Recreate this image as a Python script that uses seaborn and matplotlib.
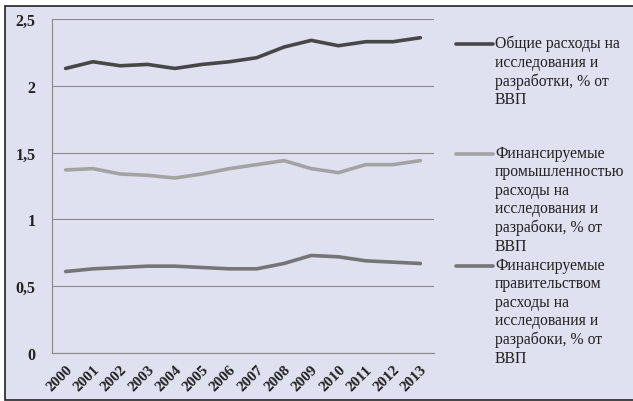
import numpy as np
import pandas as pd
import matplotlib
matplotlib.use("Agg")
import matplotlib.pyplot as plt
import seaborn as sns
from matplotlib.ticker import FuncFormatter, FixedLocator
from matplotlib.patches import Rectangle

years = list(range(2000, 2014))
total = [2.13, 2.18, 2.15, 2.16, 2.13, 2.16, 2.18, 2.21, 2.29, 2.34, 2.30, 2.33, 2.33, 2.36]
industry = [1.37, 1.38, 1.34, 1.33, 1.31, 1.34, 1.38, 1.41, 1.44, 1.38, 1.35, 1.41, 1.41, 1.44]
government = [0.61, 0.63, 0.64, 0.65, 0.65, 0.64, 0.63, 0.63, 0.67, 0.73, 0.72, 0.69, 0.68, 0.67]

labels = [
    "Общие расходы на\nисследования и\nразработки, % от\nВВП",
    "Финансируемые\nпромышленностью\nрасходы на\nисследования и\nразрабоки, % от\nВВП",
    "Финансируемые\nправительством\nрасходы на\nисследования и\nразрабоки, % от\nВВП",
]
colors = ["#474747", "#a3a3a3", "#757575"]

df = pd.concat([
    pd.DataFrame({"pos": np.arange(len(years)), "value": vals, "series": lab})
    for vals, lab in zip([total, industry, government], labels)
])

sns.set_style("white")
plt.rcParams["font.family"] = ["Liberation Serif", "DejaVu Serif"]

bg = "#dfe0f0"
fig = plt.figure(figsize=(6.33, 4.02), dpi=100)
fig.patch.set_facecolor("white")
fig.patches.append(Rectangle((5 / 633, 1 / 402), 640 / 633, 394 / 402, transform=fig.transFigure,
                             facecolor=bg, edgecolor="#222222", linewidth=1.2, zorder=-10))

ax = fig.add_axes([52 / 633, 48 / 402, 382 / 633, 334 / 402])
ax.set_facecolor(bg)

sns.lineplot(data=df, x="pos", y="value", hue="series", palette=colors, linewidth=2.6,
             ax=ax, legend=False)

ax.set_xlim(-0.5, len(years) - 0.5)
ax.set_ylim(0, 2.5)
ax.set_yticks([0, 0.5, 1, 1.5, 2, 2.5])
ax.yaxis.set_major_formatter(FuncFormatter(lambda v, p: ("%g" % v).replace(".", ",")))
ax.set_xticks(np.arange(len(years)))
ax.set_xticklabels([str(y) for y in years], rotation=45, ha="right", rotation_mode="anchor")
ax.xaxis.set_minor_locator(FixedLocator(np.arange(len(years) + 1) - 0.5))
ax.tick_params(axis="x", which="major", length=0, pad=7, labelsize=11)
ax.tick_params(axis="x", which="minor", length=4, color="#888888", width=0.8)
ax.tick_params(axis="y", length=4, color="#888888", width=0.8, labelsize=11.5, pad=8)
for t in ax.get_xticklabels() + ax.get_yticklabels():
    t.set_fontweight("bold")
    t.set_color("#222222")

ax.grid(axis="y", color="#8a8a8a", linewidth=0.8)
ax.set_axisbelow(True)
for side in ["top", "right"]:
    ax.spines[side].set_visible(False)
for side in ["left", "bottom"]:
    ax.spines[side].set_color("#888888")
    ax.spines[side].set_linewidth(0.8)
ax.set_xlabel("")
ax.set_ylabel("")

# legend drawn at the right, handle aligned with the first text line
leg_y = [45, 155, 267]
for lab, col, yy in zip(labels, colors, leg_y):
    fy = 1 - yy / 402
    fig.add_artist(plt.Line2D([456 / 633, 493 / 633], [fy, fy], transform=fig.transFigure,
                              color=col, linewidth=2.6))
    fig.text(495 / 633, fy + 9 / 402, lab, ha="left", va="top", fontsize=11.3,
             color="#222222", linespacing=1.2)

fig.savefig("out.png", dpi=100, facecolor=fig.get_facecolor())
